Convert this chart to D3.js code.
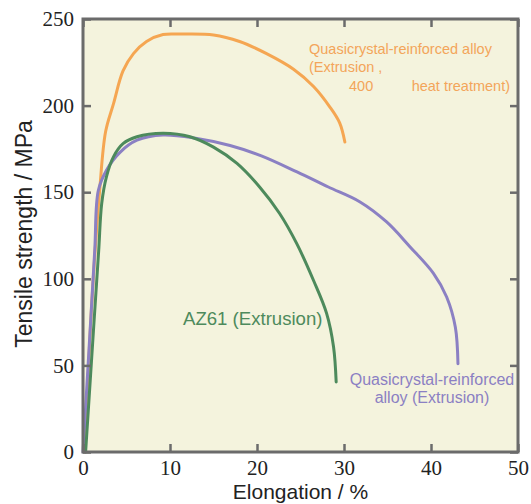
<!DOCTYPE html>
<html>
<head>
<meta charset="utf-8">
<script src="https://cdn.jsdelivr.net/npm/d3@7"></script>
<style>
  body { margin: 0; background: #fff; }
  .tick text { font-family: "Liberation Serif", "DejaVu Serif", serif !important; font-size: 21px !important; }
</style>
</head>
<body>
<div class="chart"></div>
<script>
// elongation (%) / tensile strength (MPa) pairs
var heatTreatedElong = [0.2, 1.0, 1.9, 2.6, 3.5, 4.6, 5.8, 7.3, 9.2, 11.1, 15.0, 18.0, 21.1, 24.2, 26.5, 28.4, 29.5, 30.1];
var heatTreatedMPa   = [0, 85, 150, 185, 201, 220, 230, 237, 241, 241.3, 240.8, 237, 230, 221, 211, 199, 190, 179];

var az61Elong = [0.3, 1.2, 1.8, 2.15, 2.7, 3.5, 4.6, 6.2, 9.2, 12.3, 15.0, 17.7, 20.3, 22.6, 24.6, 26.5, 28.0, 28.8, 29.1];
var az61MPa   = [0, 70, 116, 143.5, 159, 170.4, 178, 182, 184, 182, 176, 166.6, 153, 137.7, 120, 99, 80, 60.6, 40.4];

var extrudedElong = [0, 0.7, 1.35, 1.76, 2.7, 4.25, 6.2, 9.2, 13.1, 16.9, 20.5, 24.6, 28.2, 31.8, 34.9, 37.6, 40.3, 41.8, 42.8, 43.1];
var extrudedMPa   = [0, 60, 116.5, 151, 162.7, 173, 180, 183, 181, 177, 171, 161.7, 153, 144.5, 132.8, 118.4, 103, 89.5, 72, 51];

var xTicks = [0, 10, 20, 30, 40, 50];
var yTicks = [0, 50, 100, 150, 200, 250];

var margin = { top: 19, right: 13, bottom: 52, left: 83 },
    width = 531 - margin.left - margin.right,
    height = 504 - margin.top - margin.bottom;

var x = d3.scaleLinear().domain([0, 50]).range([0, width]);
var y = d3.scaleLinear().domain([0, 250]).range([height, 0]);

var svg = d3.select('.chart').append("svg")
    .attr("width", 531)
    .attr("height", 504)
    .append("g")
    .attr("transform", "translate(" + margin.left + "," + margin.top + ")");

svg.append("rect")
    .attr("width", width)
    .attr("height", height)
    .attr("fill", "#f4f3dd");

var line = d3.line()
    .x(function (d) { return x(d[0]); })
    .y(function (d) { return y(d[1]); })
    .curve(d3.curveCatmullRom.alpha(0.5));

// orange first so the other two sit on top near the origin
var series = [
    { e: heatTreatedElong, v: heatTreatedMPa, color: "#f5a652" },
    { e: extrudedElong, v: extrudedMPa, color: "#8b80c3" },
    { e: az61Elong, v: az61MPa, color: "#4d8a5c" }
];

series.forEach(function (s) {
    svg.append("path")
        .datum(d3.zip(s.e, s.v))
        .attr("fill", "none")
        .attr("stroke", s.color)
        .attr("stroke-width", 3)
        .attr("stroke-linecap", "round")
        .attr("d", line);
});

// inward ticks on all four sides, labels only bottom/left
var axisColor = "#6b6b6b";

function styleAxis(g) {
    g.attr("font-family", "Liberation Serif, serif").attr("font-size", 21);
    g.select(".domain").remove();
    g.selectAll("line").attr("stroke", axisColor).attr("stroke-width", 2.5);
    g.selectAll("text").attr("fill", "#222");
}

svg.append("g")
    .attr("transform", "translate(0," + height + ")")
    .call(d3.axisBottom(x).tickValues(xTicks).tickSizeInner(-8).tickSizeOuter(0).tickPadding(8))
    .call(styleAxis);

svg.append("g")
    .call(d3.axisLeft(y).tickValues(yTicks).tickSizeInner(-8).tickSizeOuter(0).tickPadding(9))
    .call(styleAxis);

svg.append("g")
    .call(d3.axisTop(x).tickValues(xTicks).tickSizeInner(-8).tickSizeOuter(0).tickFormat(""))
    .call(styleAxis);

svg.append("g")
    .attr("transform", "translate(" + width + ",0)")
    .call(d3.axisRight(y).tickValues(yTicks).tickSizeInner(-8).tickSizeOuter(0).tickFormat(""))
    .call(styleAxis);

svg.append("rect")
    .attr("width", width)
    .attr("height", height)
    .attr("fill", "none")
    .attr("stroke", axisColor)
    .attr("stroke-width", 3);

var sans = "'Liberation Sans', Arial, sans-serif";

svg.append("text")
    .attr("x", width / 2)
    .attr("y", height + 47)
    .attr("text-anchor", "middle")
    .style("font-family", sans)
    .style("font-size", "21px")
    .attr("fill", "#222")
    .text("Elongation / %");

svg.append("text")
    .attr("transform", "rotate(-90)")
    .attr("x", -(234 - margin.top))
    .attr("y", -51)
    .attr("text-anchor", "middle")
    .style("font-family", sans)
    .style("font-size", "23px")
    .attr("fill", "#222")
    .text("Tensile strength / MPa");

// curve labels
function label(txt, px, py, color, size, anchor) {
    svg.append("text")
        .attr("x", px - margin.left)
        .attr("y", py - margin.top)
        .attr("text-anchor", anchor || "start")
        .style("font-family", sans)
        .style("font-size", size + "px")
        .attr("fill", color)
        .text(txt);
}

label("Quasicrystal-reinforced alloy", 309, 54, "#f3a55a", 14.5);
label("(Extrusion ,", 309, 72, "#f3a55a", 14.5);
label("400", 349, 91, "#f3a55a", 14.5);
label("heat treatment)", 510, 91, "#f3a55a", 14.5, "end");

label("AZ61 (Extrusion)", 183, 325, "#4d8a5c", 18.6);

label("Quasicrystal-reinforced", 432, 385, "#8b80c3", 16, "middle");
label("alloy (Extrusion)", 432, 403, "#8b80c3", 16, "middle");
</script>
</body>
</html>
